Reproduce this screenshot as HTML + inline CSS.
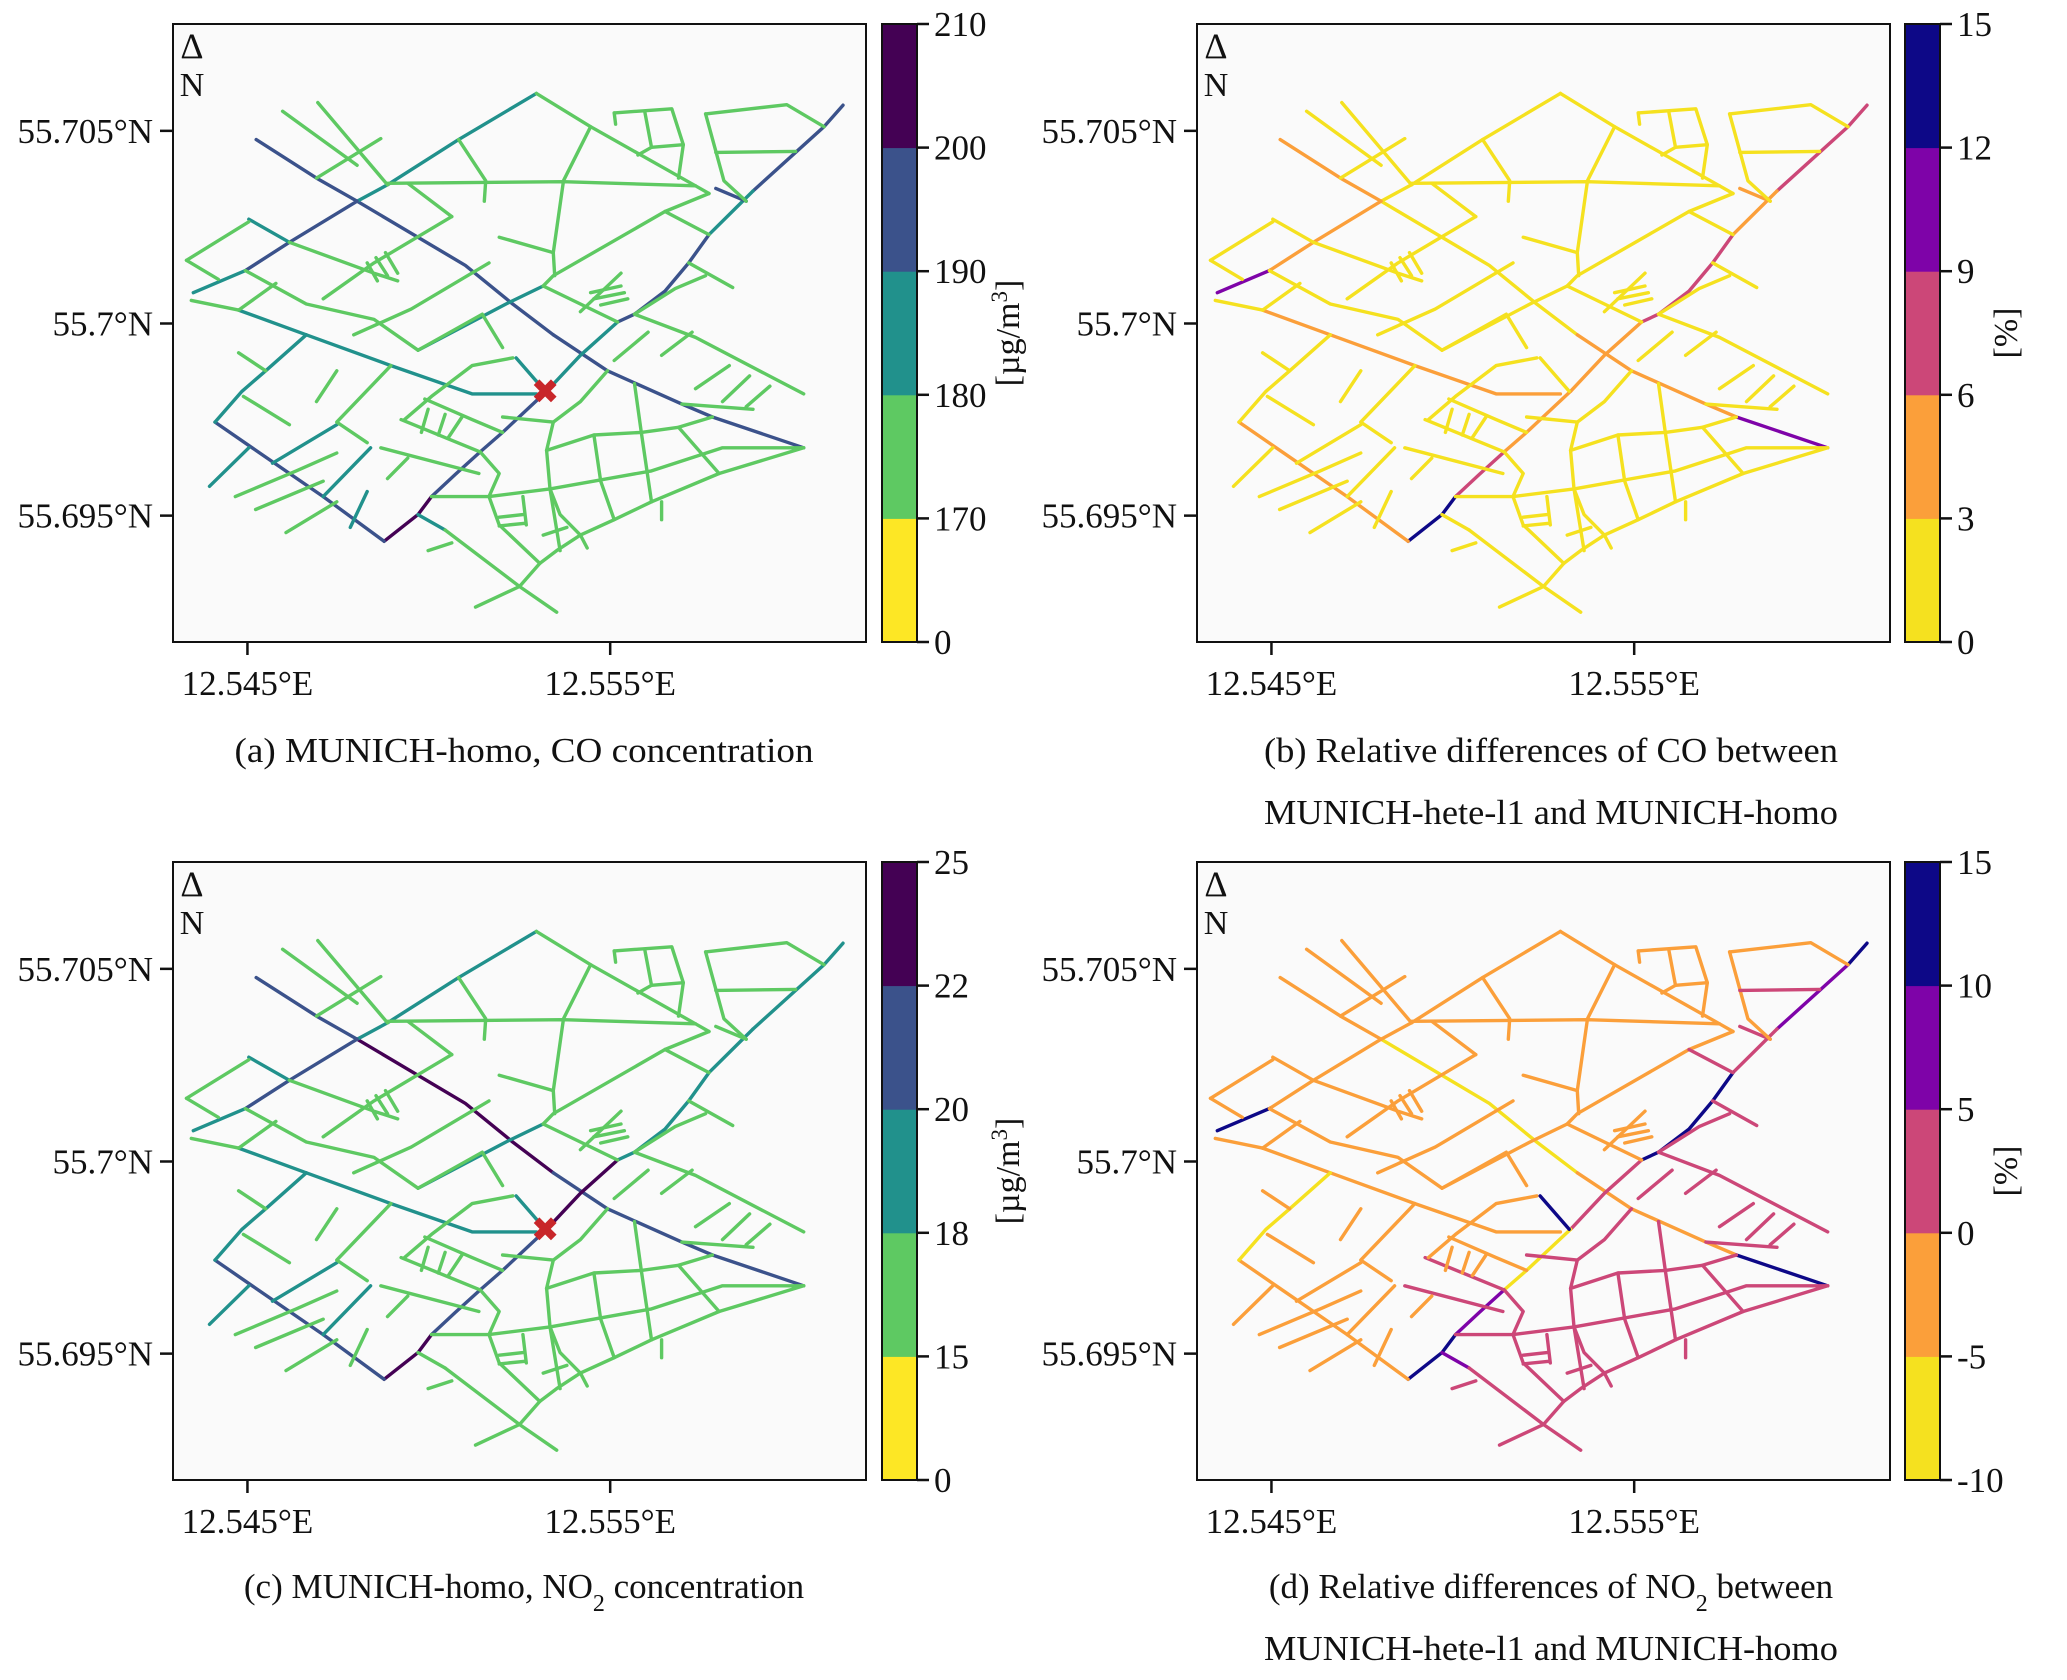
<!DOCTYPE html>
<html><head><meta charset="utf-8"><style>
html,body{margin:0;padding:0;background:#fff}
svg{display:block}
text{font-family:"Liberation Serif",serif;fill:#111}
</style></head><body>
<svg id="fig" width="2067" height="1680" viewBox="0 0 2067 1680" xmlns="http://www.w3.org/2000/svg"></svg>
<script>
// ---------- data ----------
const roadPts = [
[[381,280],[470,355],[530,400]],
[[530,400],[690,525],[760,600],[820,660]],
[[820,660],[900,730],[1010,795],[1055,820]],
[[1055,820],[1190,880]],
[[1248,213],[1220,255]],
[[1220,255],[1115,380]],
[[1115,380],[1050,465]],
[[1050,465],[1020,520],[985,575],[940,620],[915,635]],
[[915,635],[860,700],[810,770]],
[[810,770],[745,850],[712,888]],
[[712,888],[675,932],[640,975]],
[[640,975],[620,1010],[570,1062]],
[[320,830],[375,880],[480,975],[570,1062]],
[[795,190],[680,280],[575,368]],
[[575,368],[530,400]],
[[530,400],[430,480],[365,535]],
[[365,535],[288,578]],
[[370,435],[430,480]],
[[355,612],[455,660],[580,720],[700,775],[795,775]],
[[765,705],[808,770]],
[[805,565],[750,600],[620,690]],
[[320,830],[360,770],[395,730],[455,660]],
[[312,955],[370,880]],
[[405,910],[500,835]],
[[480,975],[550,880]],
[[520,1035],[545,965]],
[[620,1010],[660,1040]],
[[1060,375],[1105,400]],
[[278,515],[325,552]],
[[278,515],[370,440]],
[[285,593],[355,612]],
[[472,208],[575,368]],
[[420,225],[530,330]],
[[565,278],[470,355]],
[[575,365],[835,362],[1030,370]],
[[680,280],[720,360],[718,400]],
[[605,365],[670,430]],
[[795,190],[875,255],[1030,370],[1050,385]],
[[875,255],[835,360],[820,500],[822,545]],
[[910,228],[995,220],[1012,290],[1005,355]],
[[955,225],[965,295],[1012,290]],
[[945,310],[965,295]],
[[910,228],[912,250]],
[[1045,230],[1165,212],[1220,255]],
[[1045,230],[1072,360],[1105,400]],
[[1060,305],[1178,303]],
[[1050,385],[985,420],[820,545],[805,565]],
[[985,420],[1050,465]],
[[1020,520],[1085,568]],
[[740,470],[820,500]],
[[670,430],[555,520],[480,590]],
[[725,520],[610,610],[525,660]],
[[365,535],[455,600],[555,630],[620,690]],
[[355,612],[410,560]],
[[355,695],[395,730]],
[[362,780],[430,835]],
[[430,480],[555,540],[590,555]],
[[545,520],[560,555]],
[[558,510],[575,545]],
[[572,500],[590,540]],
[[580,720],[500,830],[545,870]],
[[470,790],[500,730]],
[[350,975],[440,925],[500,890]],
[[380,1000],[480,945]],
[[425,1045],[500,985]],
[[565,880],[710,930]],
[[605,900],[575,940]],
[[595,825],[712,888]],
[[630,785],[700,825],[745,850]],
[[635,805],[625,850]],
[[660,815],[650,855]],
[[685,820],[665,860]],
[[820,830],[860,790],[900,730]],
[[745,820],[820,830]],
[[820,830],[810,885],[815,960],[830,1080]],
[[810,885],[880,855],[950,850],[1005,840],[1055,820]],
[[880,855],[890,945],[910,1020]],
[[640,975],[725,975],[815,960],[965,925],[1070,880],[1190,880]],
[[940,755],[950,850],[965,985]],
[[980,985],[980,1020]],
[[1005,840],[1065,930]],
[[1190,880],[1065,930],[965,985],[910,1020],[860,1050],[825,1080],[800,1105],[770,1150],[705,1190]],
[[725,975],[740,1030],[800,1105]],
[[725,975],[740,930],[712,888]],
[[740,1015],[775,1010]],
[[740,1032],[778,1027]],
[[775,975],[780,1030]],
[[815,960],[830,1010],[860,1050],[870,1075]],
[[805,1050],[840,1035]],
[[660,1040],[770,1150],[825,1200]],
[[635,1080],[670,1065]],
[[940,620],[1030,665],[1190,775]],
[[1030,765],[1080,720]],
[[1070,790],[1110,740]],
[[1105,800],[1140,760]],
[[1010,795],[1115,805]],
[[910,710],[960,655]],
[[980,700],[1025,655]],
[[875,578],[920,565]],
[[880,590],[925,578]],
[[890,602],[930,590]],
[[860,615],[920,540]],
[[940,620],[1000,570],[1045,545]],
[[805,565],[860,600],[915,635]],
[[620,690],[715,620],[745,685]],
[[760,705],[700,720],[640,780],[600,825]]
];
const coMain = [195,195,195,195,195,195,185,195,185,195,195,205,195,185,185,195,185,185,185,185,185,185,185,185,185,185,185,195];
const coDefault = 175;
const coDiffMain = [4.5,1.5,4.5,10.5,7.5,7.5,4.5,7.5,4.5,4.5,7.5,13.5,4.5,1.5,1.5,4.5,10.5,1.5,4.5,1.5,1.5,1.5,1.5,1.5,1.5,1.5,1.5,4.5];
const coDiffDefault = 1.5;
const no2Main = [21,23.5,21,21,19,19,19,19,23.5,21,21,23.5,21,19,19,21,19,19,19,19,19,19,19,19,19,16.5,16.5,16.5];
const no2Default = 16.5;
const no2DiffMain = [-2.5,-7.5,-2.5,12.5,12.5,7.5,2.5,12.5,2.5,-7.5,7.5,12.5,-2.5,-2.5,-2.5,-2.5,12.5,-2.5,-2.5,12.5,-2.5,-7.5,-2.5,-2.5,-2.5,-2.5,7.5,2.5];
const no2DiffEast = 2.5, no2DiffWest = -2.5;

const cbTicksA = ["0","170","180","190","200","210"];
const cbTicksB = ["0","3","6","9","12","15"];
const cbTicksC = ["0","15","18","20","22","25"];
const cbTicksD = ["-10","-5","0","5","10","15"];
const cbEdgesA = [0,170,180,190,200,210];
const cbEdgesB = [0,3,6,9,12,15];
const cbEdgesC = [0,15,18,20,22,25];
const cbEdgesD = [-10,-5,0,5,10,15];
const viridis = ["#fde725","#5ec962","#21918c","#3b528b","#440154"];
const plasma = ["#f5e11f","#fb9f3a","#cc4778","#7e03a8","#0d0887"];
const xTickLabels = ["12.545°E","12.555°E"];
const xTickGrid = [368,904];
const yTickLabels = ["55.705°N","55.7°N","55.695°N"];
const yTickGrid = [263,638,1012];
const markerGrid = [808,770];

const NS="http://www.w3.org/2000/svg";
const svg=document.getElementById('fig');
function el(tag,attrs,parent){const e=document.createElementNS(NS,tag);for(const k in attrs)e.setAttribute(k,attrs[k]);(parent||svg).appendChild(e);return e;}
function colorFor(v,edges,cmap){for(let i=0;i<cmap.length;i++){if(v<edges[i+1])return cmap[i];}return cmap[cmap.length-1];}
function eastOfMain(p){const t=(p[1]-213)/(1062-213);const xl=1248+(570-1248)*t;return p[0]>xl;}

const panels=[
 {id:'a',X0:173,Y0:24,cb:882,lab:1019,unit:'ug',ticks:cbTicksA,edges:cbEdgesA,cmap:viridis,marker:true,
  val:i=>i<coMain.length?coMain[i]:coDefault},
 {id:'b',X0:1197,Y0:24,cb:1905,lab:2017,unit:'pct',ticks:cbTicksB,edges:cbEdgesB,cmap:plasma,marker:false,
  val:i=>i<coDiffMain.length?coDiffMain[i]:coDiffDefault},
 {id:'c',X0:173,Y0:862,cb:882,lab:1019,unit:'ug',ticks:cbTicksC,edges:cbEdgesC,cmap:viridis,marker:true,
  val:i=>i<no2Main.length?no2Main[i]:no2Default},
 {id:'d',X0:1197,Y0:862,cb:1905,lab:2017,unit:'pct',ticks:cbTicksD,edges:cbEdgesD,cmap:plasma,marker:false,
  val:i=>{if(i<no2DiffMain.length)return no2DiffMain[i];const pts=roadPts[i];const m=pts[Math.floor(pts.length/2)];return eastOfMain(m)?no2DiffEast:no2DiffWest;}}
];
const W=693,H=618;
panels.forEach(P=>{
  const g=el('g',{});
  
  
  const xs=gx=>P.X0+(gx-258)/1024*W;
  const ys=gy=>P.Y0+(gy-55)/1203*H;
  const bg=el('rect',{x:P.X0,y:P.Y0,width:W,height:H,fill:'#fafafa'},g);
  
  
  roadPts.forEach((pts,i)=>{
    const c=colorFor(P.val(i),P.edges,P.cmap);
    const pl=el('polyline',{points:pts.map(p=>xs(p[0]).toFixed(1)+','+ys(p[1]).toFixed(1)).join(' '),fill:'none',stroke:c,'stroke-width':3.4,'stroke-linejoin':'round','stroke-linecap':'round'},g);
    
    
  });
  if(P.marker){
    const mx=xs(markerGrid[0]),my=ys(markerGrid[1]);
    const mk=el('text',{x:mx,y:my+11,'text-anchor':'middle','font-size':32,'font-weight':'bold',style:'fill:#c8262a'},g);
    mk.textContent='✖';
    
    
  }
  const fr=el('rect',{x:P.X0,y:P.Y0,width:W,height:H,fill:'none',stroke:'#111','stroke-width':2},g);
  
  
  const n1=el('text',{x:P.X0+19,y:P.Y0+34,'text-anchor':'middle','font-size':36},g);n1.textContent='Δ';
  
  
  const n2=el('text',{x:P.X0+19,y:P.Y0+72,'text-anchor':'middle','font-size':34},g);n2.textContent='N';
  
  
  yTickGrid.forEach((gy,i)=>{
    const y=ys(gy);
    el('line',{x1:P.X0-13,x2:P.X0,y1:y,y2:y,stroke:'#111','stroke-width':2.5},g);
    const t=el('text',{x:P.X0-20,y:y+12,'text-anchor':'end','font-size':35},g);t.textContent=yTickLabels[i];
    
    
  });
  xTickGrid.forEach((gx,i)=>{
    const x=xs(gx);
    el('line',{x1:x,x2:x,y1:P.Y0+H,y2:P.Y0+H+13,stroke:'#111','stroke-width':2.5},g);
    const t=el('text',{x:x,y:P.Y0+H+53,'text-anchor':'middle','font-size':35},g);t.textContent=xTickLabels[i];
    
    
  });
  const n=P.cmap.length,bh=H/n;
  P.cmap.forEach((c,i)=>{
    const r=el('rect',{x:P.cb,y:P.Y0+H-(i+1)*bh,width:35,height:bh+0.5,fill:c},g);
    
    
  });
  el('rect',{x:P.cb,y:P.Y0,width:35,height:H,fill:'none',stroke:'#111','stroke-width':2},g);
  P.ticks.forEach((lbl,i)=>{
    const y=P.Y0+H-i*bh;
    el('line',{x1:P.cb+35,x2:P.cb+47,y1:y,y2:y,stroke:'#111','stroke-width':2.5},g);
    const t=el('text',{x:P.cb+52,y:y+12,'font-size':35},g);t.textContent=lbl;
    
    
  });
  const cy=P.Y0+H/2;
  const lt=el('text',{x:P.lab,y:cy,'text-anchor':'middle','font-size':34,transform:`rotate(-90 ${P.lab} ${cy})`},g);
  if(P.unit==='ug'){lt.innerHTML='[µg/m<tspan baseline-shift="super" font-size="23">3</tspan>]';}else{lt.textContent='[%]';}
  
  
});

const caps=[
 [524,762,'(a) MUNICH-homo, CO concentration',579,'caption-a'],
 [1551,762,'(b) Relative differences of CO between',574,'caption-b-line1'],
 [1551,824,'MUNICH-hete-l1 and MUNICH-homo',574,'caption-b-line2'],
 [524,1598,'(c) MUNICH-homo, NO<tspan baseline-shift="sub" font-size="24">2</tspan> concentration',0,'caption-c'],
 [1551,1598,'(d) Relative differences of NO<tspan baseline-shift="sub" font-size="24">2</tspan> between',0,'caption-d-line1'],
 [1551,1660,'MUNICH-hete-l1 and MUNICH-homo',574,'caption-d-line2']];
caps.forEach(c=>{const t=document.createElementNS(NS,'text');t.setAttribute('x',c[0]);t.setAttribute('y',c[1]);t.setAttribute('text-anchor','middle');t.setAttribute('font-size','35');
 if(c[3]){t.setAttribute('textLength',c[3]);t.setAttribute('lengthAdjust','spacingAndGlyphs');}
 t.innerHTML=c[2];
 
 
 svg.appendChild(t);});
</script>
</body></html>
